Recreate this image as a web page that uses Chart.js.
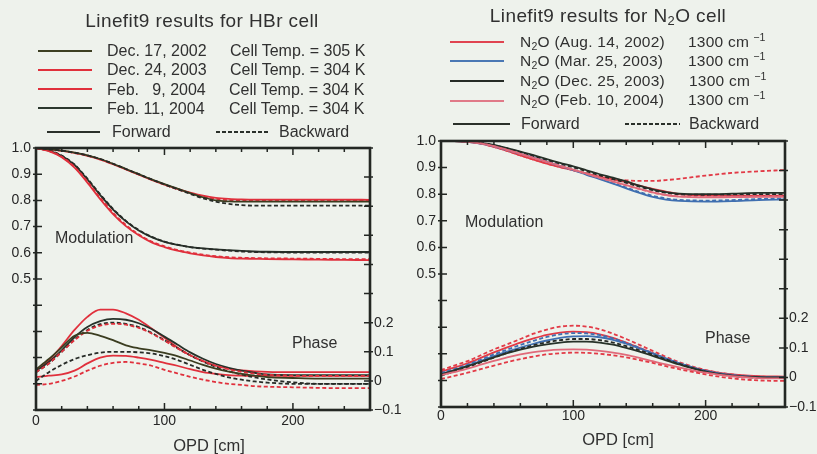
<!DOCTYPE html>
<html><head><meta charset="utf-8">
<script src="https://cdn.jsdelivr.net/npm/chart.js@4.4.1/dist/chart.umd.min.js"></script>
<style>
html,body{margin:0;padding:0;background:#eef2ec;}
body{width:817px;height:454px;position:relative;overflow:hidden;font-family:"Liberation Sans",Arial,sans-serif;color:#303030;}
.t{position:absolute;white-space:nowrap;line-height:1;transform:translateY(-50%);}
.c{transform:translate(-50%,-50%);}
.ttl{font-size:19px;letter-spacing:0.4px;}
.rl{font-size:15.5px;letter-spacing:0.25px;}
.ln{position:absolute;height:2px;}
.dl{position:absolute;height:2px;background:repeating-linear-gradient(90deg,#2a302a 0 4px,transparent 4px 6px);}
.wrap{position:absolute;top:0;}
sub{font-size:0.68em;vertical-align:-0.3em;line-height:0;}
sup{font-size:0.68em;vertical-align:0.55em;line-height:0;margin-left:4px;}
</style></head><body>

<div class="wrap" style="left:0;width:410px;height:454px"><canvas id="cL" width="410" height="454"></canvas></div>
<div class="wrap" style="left:400px;width:417px;height:454px"><canvas id="cR" width="417" height="454"></canvas></div>

<!-- left titles / legend -->
<div class="t c ttl" style="left:202px;top:20px">Linefit9 results for HBr cell</div>
<div class="ln" style="left:38px;top:50px;width:54px;background:#3d3f22"></div>
<div class="ln" style="left:38px;top:69px;width:54px;background:#e0303c"></div>
<div class="ln" style="left:38px;top:88px;width:54px;background:#e0303c"></div>
<div class="ln" style="left:38px;top:107px;width:54px;background:#2b382e"></div>
<div class="t" style="left:107px;top:51px;font-size:16px">Dec. 17, 2002</div>
<div class="t" style="left:107px;top:70px;font-size:16px">Dec. 24, 2003</div>
<div class="t" style="left:107px;top:90px;font-size:16px">Feb.&nbsp;&nbsp; 9, 2004</div>
<div class="t" style="left:107px;top:109px;font-size:16px">Feb. 11, 2004</div>
<div class="t" style="left:230px;top:51px;font-size:16px">Cell Temp. = 305 K</div>
<div class="t" style="left:230px;top:70px;font-size:16px">Cell Temp. = 304 K</div>
<div class="t" style="left:229px;top:90px;font-size:16px">Cell Temp. = 304 K</div>
<div class="t" style="left:229px;top:109px;font-size:16px">Cell Temp. = 304 K</div>
<div class="ln" style="left:47px;top:131px;width:53px;background:#2a302a"></div>
<div class="t" style="left:112px;top:132px;font-size:16px">Forward</div>
<div class="dl" style="left:216px;top:131px;width:52px"></div>
<div class="t" style="left:279px;top:132px;font-size:16px">Backward</div>

<!-- right titles / legend -->
<div class="t c ttl" style="left:608px;top:15px">Linefit9 results for N<sub>2</sub>O cell</div>
<div class="ln" style="left:450px;top:41px;width:54px;background:#e04450"></div>
<div class="ln" style="left:450px;top:60px;width:54px;background:#4a78b4"></div>
<div class="ln" style="left:450px;top:80px;width:54px;background:#262c26"></div>
<div class="ln" style="left:450px;top:100px;width:54px;background:#e07a88"></div>
<div class="t rl" style="left:520px;top:42px">N<sub>2</sub>O (Aug. 14, 2002)</div>
<div class="t rl" style="left:520px;top:61px">N<sub>2</sub>O (Mar. 25, 2003)</div>
<div class="t rl" style="left:520px;top:81px">N<sub>2</sub>O (Dec. 25, 2003)</div>
<div class="t rl" style="left:520px;top:100px">N<sub>2</sub>O (Feb. 10, 2004)</div>
<div class="t rl" style="left:688px;top:42px">1300 cm<sup>−1</sup></div>
<div class="t rl" style="left:688px;top:61px">1300 cm<sup>−1</sup></div>
<div class="t rl" style="left:689px;top:81px">1300 cm<sup>−1</sup></div>
<div class="t rl" style="left:688px;top:100px">1300 cm<sup>−1</sup></div>
<div class="ln" style="left:453px;top:123px;width:57px;background:#2a302a"></div>
<div class="t" style="left:521px;top:124px;font-size:16px">Forward</div>
<div class="dl" style="left:625px;top:123px;width:55px"></div>
<div class="t" style="left:689px;top:124px;font-size:16px">Backward</div>

<!-- in-plot labels -->
<div class="t" style="left:55px;top:238px;font-size:16px">Modulation</div>
<div class="t" style="left:292px;top:343px;font-size:16px">Phase</div>
<div class="t" style="left:465px;top:222px;font-size:16px">Modulation</div>
<div class="t" style="left:705px;top:338px;font-size:16px">Phase</div>
<div class="t c" style="left:209px;top:445px;font-size:16.5px">OPD [cm]</div>
<div class="t c" style="left:618px;top:439px;font-size:16.5px">OPD [cm]</div>

<script>
// ---------- DATA ----------
const OPD = [0,10,20,30,40,50,60,70,80,90,100,110,120,130,140,150,160,170,180,200,220,240,260];

// HBr cell: modulation
const hbrModDec17Fwd = [1.0,0.995,0.99,0.982,0.972,0.958,0.94,0.92,0.90,0.88,0.862,0.845,0.828,0.812,0.80,0.796,0.795,0.795,0.795,0.795,0.795,0.795,0.795];
const hbrModDec17Bwd = [1.0,0.995,0.99,0.982,0.972,0.958,0.94,0.92,0.90,0.88,0.861,0.843,0.825,0.808,0.795,0.787,0.782,0.78,0.78,0.78,0.78,0.78,0.78];
const hbrModDec24Fwd = [1.0,0.995,0.989,0.981,0.97,0.956,0.938,0.918,0.898,0.878,0.86,0.844,0.83,0.818,0.81,0.806,0.804,0.803,0.803,0.803,0.803,0.803,0.802];
const hbrModDec24Bwd = [1.0,0.995,0.99,0.981,0.971,0.957,0.939,0.919,0.899,0.879,0.86,0.843,0.828,0.815,0.806,0.801,0.80,0.80,0.80,0.80,0.80,0.80,0.80];
const hbrModFeb09Fwd = [1.0,0.988,0.965,0.925,0.868,0.805,0.748,0.702,0.667,0.64,0.622,0.608,0.598,0.59,0.584,0.58,0.578,0.577,0.576,0.575,0.574,0.573,0.572];
const hbrModFeb09Bwd = [1.0,0.989,0.967,0.928,0.872,0.81,0.753,0.706,0.67,0.643,0.625,0.611,0.601,0.593,0.587,0.583,0.581,0.58,0.579,0.578,0.577,0.576,0.576];
const hbrModFeb11Fwd = [1.0,0.99,0.97,0.935,0.88,0.82,0.765,0.72,0.685,0.66,0.642,0.63,0.622,0.617,0.613,0.61,0.607,0.605,0.604,0.603,0.603,0.603,0.603];
const hbrModFeb11Bwd = [1.0,0.991,0.971,0.937,0.883,0.823,0.768,0.722,0.687,0.661,0.643,0.631,0.622,0.616,0.612,0.608,0.605,0.603,0.602,0.601,0.601,0.601,0.601];

// HBr cell: phase (rad)
const hbrPhDec17Fwd = [0.04,0.075,0.115,0.155,0.165,0.155,0.14,0.122,0.112,0.105,0.096,0.085,0.07,0.055,0.042,0.032,0.024,0.018,0.013,0.01,0.008,0.008,0.008];
const hbrPhDec17Bwd = [0.0,0.03,0.055,0.075,0.088,0.097,0.1,0.1,0.098,0.094,0.085,0.072,0.055,0.038,0.024,0.012,0.004,-0.002,-0.006,-0.01,-0.01,-0.01,-0.01];
const hbrPhDec24Fwd = [0.035,0.07,0.12,0.175,0.22,0.245,0.245,0.232,0.21,0.18,0.148,0.115,0.088,0.068,0.052,0.042,0.036,0.033,0.031,0.03,0.03,0.03,0.03];
const hbrPhDec24Bwd = [0.03,0.06,0.1,0.14,0.172,0.19,0.196,0.193,0.182,0.163,0.138,0.112,0.088,0.068,0.052,0.04,0.031,0.025,0.021,0.018,0.017,0.017,0.017];
const hbrPhFeb09Fwd = [0.013,0.018,0.022,0.035,0.06,0.08,0.087,0.086,0.08,0.072,0.062,0.052,0.04,0.03,0.024,0.02,0.018,0.017,0.017,0.017,0.017,0.017,0.017];
const hbrPhFeb09Bwd = [-0.014,-0.01,0.0,0.015,0.035,0.052,0.062,0.065,0.06,0.052,0.038,0.026,0.014,0.004,-0.004,-0.01,-0.014,-0.018,-0.02,-0.022,-0.024,-0.025,-0.025];
const hbrPhFeb11Fwd = [0.035,0.065,0.105,0.15,0.185,0.205,0.213,0.21,0.198,0.178,0.152,0.125,0.098,0.076,0.058,0.045,0.035,0.028,0.022,0.02,0.02,0.02,0.02];
const hbrPhFeb11Bwd = [0.03,0.06,0.1,0.142,0.175,0.195,0.2,0.196,0.185,0.165,0.14,0.113,0.088,0.066,0.048,0.033,0.022,0.012,0.005,-0.005,-0.01,-0.01,-0.01];

// N2O cell: modulation
const n2oModAug14Fwd = [1.0,1.0,0.997,0.99,0.978,0.963,0.946,0.93,0.915,0.902,0.89,0.878,0.866,0.856,0.845,0.832,0.82,0.81,0.80,0.795,0.795,0.795,0.795];
const n2oModAug14Bwd = [1.0,1.0,0.997,0.99,0.978,0.963,0.946,0.93,0.915,0.902,0.89,0.877,0.866,0.857,0.852,0.85,0.85,0.853,0.858,0.87,0.88,0.886,0.891];
const n2oModMar25Fwd = [1.0,1.0,0.997,0.99,0.98,0.966,0.952,0.938,0.922,0.906,0.89,0.873,0.857,0.84,0.822,0.805,0.79,0.78,0.775,0.772,0.774,0.778,0.78];
const n2oModMar25Bwd = [1.0,1.0,0.997,0.991,0.981,0.968,0.954,0.94,0.924,0.908,0.892,0.875,0.859,0.842,0.825,0.808,0.794,0.784,0.779,0.776,0.778,0.782,0.785];
const n2oModDec25Fwd = [1.0,1.0,0.998,0.993,0.985,0.973,0.96,0.947,0.932,0.918,0.905,0.89,0.875,0.862,0.848,0.832,0.818,0.808,0.802,0.80,0.802,0.805,0.805];
const n2oModDec25Bwd = [1.0,1.0,0.998,0.993,0.984,0.972,0.958,0.944,0.929,0.915,0.901,0.886,0.871,0.857,0.843,0.828,0.815,0.805,0.80,0.798,0.799,0.80,0.80];
const n2oModFeb10Fwd = [1.0,1.0,0.997,0.991,0.981,0.967,0.952,0.937,0.922,0.907,0.892,0.877,0.862,0.848,0.834,0.82,0.807,0.797,0.791,0.788,0.789,0.79,0.79];
const n2oModFeb10Bwd = [1.0,1.0,0.997,0.991,0.98,0.966,0.951,0.936,0.921,0.906,0.891,0.876,0.861,0.847,0.833,0.819,0.806,0.797,0.792,0.79,0.791,0.792,0.793];

// N2O cell: phase (rad)
const n2oPhAug14Fwd = [0.02,0.033,0.048,0.066,0.085,0.102,0.118,0.132,0.144,0.152,0.155,0.153,0.146,0.134,0.118,0.10,0.082,0.064,0.048,0.024,0.01,0.004,0.003];
const n2oPhAug14Bwd = [0.025,0.04,0.055,0.075,0.095,0.112,0.13,0.148,0.162,0.172,0.175,0.172,0.163,0.148,0.13,0.11,0.09,0.07,0.052,0.025,0.01,0.003,0.0];
const n2oPhMar25Fwd = [0.012,0.025,0.04,0.056,0.072,0.087,0.101,0.114,0.125,0.134,0.139,0.14,0.136,0.127,0.114,0.098,0.081,0.064,0.048,0.022,0.007,0.001,0.0];
const n2oPhMar25Bwd = [0.015,0.028,0.043,0.06,0.078,0.094,0.11,0.124,0.137,0.146,0.15,0.149,0.143,0.132,0.117,0.10,0.082,0.064,0.048,0.022,0.008,0.002,0.0];
const n2oPhDec25Fwd = [0.01,0.024,0.038,0.053,0.068,0.082,0.094,0.104,0.112,0.118,0.121,0.121,0.118,0.111,0.10,0.087,0.073,0.058,0.044,0.02,0.006,0.001,0.0];
const n2oPhDec25Bwd = [0.006,0.02,0.035,0.051,0.067,0.083,0.097,0.109,0.119,0.126,0.13,0.13,0.126,0.118,0.106,0.092,0.077,0.061,0.046,0.02,0.005,-0.001,-0.002];
const n2oPhFeb10Fwd = [0.008,0.018,0.03,0.043,0.056,0.068,0.078,0.086,0.091,0.094,0.095,0.094,0.09,0.084,0.076,0.066,0.055,0.044,0.034,0.016,0.004,-0.002,-0.003];
const n2oPhFeb10Bwd = [-0.005,0.005,0.016,0.028,0.04,0.052,0.062,0.071,0.078,0.082,0.084,0.083,0.08,0.075,0.068,0.059,0.049,0.038,0.028,0.01,-0.003,-0.01,-0.012];

// Tick values and labels
const xTickMarks = [0,20,40,60,80,100,120,140,160,180,200,220,240,260];
const xTickLabels = [0,100,200];
const modTickMarks = [0,0.1,0.2,0.3,0.4,0.5,0.6,0.7,0.8,0.9,1.0];
const modTickLabels = ['0.5','0.6','0.7','0.8','0.9','1.0'];
const phaseTickMarks = [-0.1,0,0.1,0.2,0.3,0.4,0.5,0.6,0.7,0.8];
const phaseTickValues = [-0.1,0,0.1,0.2];
const phaseTickLabels = ['−0.1','0','0.1','0.2'];

// ---------- STYLES ----------
const C = {olive:'#3b3d20', red:'#e0303c', red2:'#e23a46', black:'#273229', blue:'#3f6fb0', pink:'#e06a7a', dark:'#262a26'};
const DASH = [4,2.5];

const hbrSeries = [
  {d:hbrModDec17Bwd, c:C.dark, dash:true, ax:'y'},
  {d:hbrModDec17Fwd, c:C.olive, dash:false, ax:'y'},
  {d:hbrModDec24Bwd, c:C.red, dash:true, ax:'y'},
  {d:hbrModDec24Fwd, c:C.red, dash:false, ax:'y'},
  {d:hbrModFeb09Bwd, c:C.red, dash:true, ax:'y'},
  {d:hbrModFeb09Fwd, c:C.red, dash:false, ax:'y'},
  {d:hbrModFeb11Bwd, c:C.dark, dash:true, ax:'y'},
  {d:hbrModFeb11Fwd, c:C.black, dash:false, ax:'y'},
  {d:hbrPhDec17Fwd, c:C.olive, dash:false, ax:'y2'},
  {d:hbrPhDec17Bwd, c:C.dark, dash:true, ax:'y2'},
  {d:hbrPhDec24Bwd, c:C.red, dash:true, ax:'y2'},
  {d:hbrPhFeb11Bwd, c:C.dark, dash:true, ax:'y2'},
  {d:hbrPhFeb11Fwd, c:C.black, dash:false, ax:'y2'},
  {d:hbrPhDec24Fwd, c:C.red, dash:false, ax:'y2'},
  {d:hbrPhFeb09Fwd, c:C.red, dash:false, ax:'y2'},
  {d:hbrPhFeb09Bwd, c:C.red, dash:true, ax:'y2'}
];
const n2oSeries = [
  {d:n2oModFeb10Bwd, c:C.pink, dash:true, ax:'y'},
  {d:n2oModFeb10Fwd, c:C.pink, dash:false, ax:'y'},
  {d:n2oModDec25Bwd, c:C.dark, dash:true, ax:'y'},
  {d:n2oModDec25Fwd, c:C.black, dash:false, ax:'y'},
  {d:n2oModMar25Bwd, c:C.blue, dash:true, ax:'y'},
  {d:n2oModMar25Fwd, c:C.blue, dash:false, ax:'y'},
  {d:n2oModAug14Bwd, c:C.red2, dash:true, ax:'y'},
  {d:n2oModAug14Fwd, c:C.red2, dash:false, ax:'y'},
  {d:n2oPhFeb10Bwd, c:C.red2, dash:true, ax:'y2'},
  {d:n2oPhFeb10Fwd, c:C.pink, dash:false, ax:'y2'},
  {d:n2oPhDec25Fwd, c:C.black, dash:false, ax:'y2'},
  {d:n2oPhDec25Bwd, c:C.dark, dash:true, ax:'y2'},
  {d:n2oPhMar25Fwd, c:C.blue, dash:false, ax:'y2'},
  {d:n2oPhMar25Bwd, c:C.blue, dash:true, ax:'y2'},
  {d:n2oPhAug14Fwd, c:C.red2, dash:false, ax:'y2'},
  {d:n2oPhAug14Bwd, c:C.red2, dash:true, ax:'y2'}
];

const frameTicks = {
  id:'frameTicks',
  afterDatasetsDraw(chart){
    const {ctx, chartArea:a, scales:{x,y,y2}} = chart;
    ctx.save();
    ctx.strokeStyle = '#232723';
    ctx.lineWidth = 1.5;
    ctx.beginPath();
    for (const v of xTickMarks){
      const p = x.getPixelForValue(v);
      const L = xTickLabels.includes(v) ? 7 : 4;
      ctx.moveTo(p, a.bottom); ctx.lineTo(p, a.bottom - L);
      ctx.moveTo(p, a.top); ctx.lineTo(p, a.top + L);
    }
    for (const v of modTickMarks){
      const p = y.getPixelForValue(v);
      ctx.moveTo(a.left - 3, p); ctx.lineTo(a.left + 6, p);
    }
    for (const v of phaseTickMarks){
      const p = y2.getPixelForValue(v);
      ctx.moveTo(a.right + 3, p); ctx.lineTo(a.right - 6, p);
    }
    ctx.stroke();
    ctx.lineWidth = 2.6;
    ctx.strokeRect(a.left, a.top, a.width, a.height);
    ctx.restore();
  }
};

function makePanel(id, series, g){
  const font = {family:'"Liberation Sans", Arial, sans-serif', size:14};
  return new Chart(document.getElementById(id), {
    type:'line',
    data:{datasets: series.map(s => ({
      data: OPD.map((xv,i) => ({x:xv, y:s.d[i]})),
      borderColor: s.c, borderWidth: 1.8, borderDash: s.dash ? DASH : [],
      pointRadius: 0, tension: 0.35, cubicInterpolationMode:'monotone', yAxisID: s.ax, fill:false
    }))},
    options:{
      responsive:false, animation:false, events:[],
      layout:{padding:{top:g.top, left:0, right:0, bottom:0}},
      plugins:{legend:{display:false}, tooltip:{enabled:false}},
      scales:{
        x:{type:'linear', min:0, max:260,
          grid:{display:false, drawTicks:false}, border:{display:false},
          ticks:{stepSize:100, includeBounds:false, font, color:'#262626', padding:g.xpad, maxRotation:0,
                 callback:v => xTickLabels.includes(v) ? String(v) : ''},
          afterFit:s => { s.height = g.xh; }},
        y:{type:'linear', position:'left', min:0, max:1.0,
          grid:{display:false, drawTicks:false}, border:{display:false},
          ticks:{stepSize:0.1, font, color:'#262626', padding:5,
                 callback:v => { const t = Number(v).toFixed(1); return modTickLabels.includes(t) ? t : ''; }},
          afterFit:s => { s.width = g.yw; }},
        y2:{type:'linear', position:'right', min:-0.1, max:0.8,
          grid:{display:false, drawTicks:false}, border:{display:false},
          ticks:{stepSize:0.1, font, color:'#262626', padding:4,
                 callback:v => { const i = phaseTickValues.findIndex(p => Math.abs(p - v) < 1e-6); return i >= 0 ? phaseTickLabels[i] : ''; }},
          afterFit:s => { s.width = g.y2w; }}
      }
    },
    plugins:[frameTicks]
  });
}

makePanel('cL', hbrSeries, {top:148, xh:44, yw:36, y2w:40, xpad:3});
makePanel('cR', n2oSeries, {top:141, xh:47, yw:41, y2w:32, xpad:1});
</script>
</body></html>
